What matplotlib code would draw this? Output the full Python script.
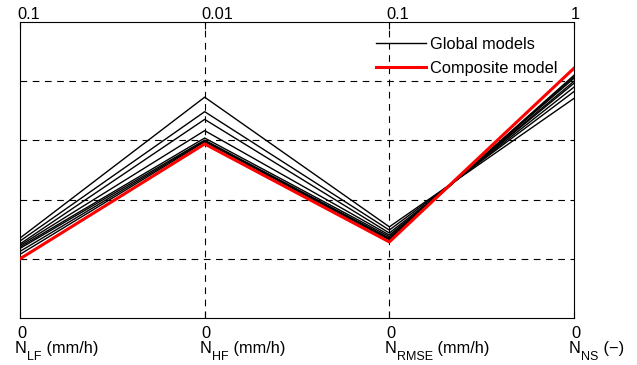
import matplotlib
matplotlib.use("Agg")
import matplotlib.pyplot as plt
from matplotlib.transforms import blended_transform_factory, offset_copy

plt.rcParams['font.family'] = ['Liberation Sans', 'DejaVu Sans']

# ---- data (normalized 0..1 on each axis) ----
axis_main = ['N', 'N', 'N', 'N']
axis_sub = ['LF', 'HF', 'RMSE', 'NS']
axis_units = [' (mm/h)', ' (mm/h)', ' (mm/h)', ' (−)']
top_labels = ['0.1', '0.01', '0.1', '1']
bottom_labels = ['0', '0', '0', '0']

global_models = [
    [0.270, 0.746, 0.308, 0.742],
    [0.260, 0.697, 0.297, 0.765],
    [0.250, 0.671, 0.287, 0.780],
    [0.245, 0.633, 0.280, 0.793],
    [0.240, 0.608, 0.275, 0.800],
    [0.235, 0.601, 0.270, 0.810],
    [0.225, 0.598, 0.267, 0.815],
    [0.215, 0.595, 0.264, 0.820],
]
composite_model = [0.200, 0.588, 0.257, 0.844]

FS = 11.8
SUB_FS = 9.0

W, H = 637, 365
fig = plt.figure(figsize=(W / 100, H / 100), dpi=100)
ax = fig.add_axes([20 / W, (H - 318) / H, 554 / W, 296 / H])

xs = list(range(len(axis_main)))
ax.set_xlim(0, len(xs) - 1)
ax.set_ylim(0, 1)

# grid
for x in xs[1:-1]:
    ax.axvline(x, color='black', lw=0.8, ls=(0, (6, 5)), zorder=1)
for y in [0.2, 0.4, 0.6, 0.8]:
    ax.axhline(y, color='black', lw=0.8, ls=(0, (6, 5)), zorder=1)

for i, g in enumerate(global_models):
    ax.plot(xs, g, color='black', lw=1.0, zorder=2,
            label='Global models' if i == 0 else None)
ax.plot(xs, composite_model, color='red', lw=2.2, zorder=3,
        label='Composite model')

ax.set_xticks(xs)
ax.set_xticklabels([])
ax.set_yticks([])
ax.tick_params(axis='x', direction='in', length=5, width=0.8, top=True, bottom=True)
for s in ax.spines.values():
    s.set_linewidth(0.8)

renderer = fig.canvas.get_renderer()
trans = blended_transform_factory(ax.transData, ax.transAxes)
for x, tl, bl, m, sb, un in zip(xs, top_labels, bottom_labels, axis_main, axis_sub, axis_units):
    ax.text(x, 1.0, tl, transform=offset_copy(trans, fig=fig, x=-3, y=3, units='dots'),
            ha='left', va='baseline', fontsize=FS)
    ax.text(x, 0.0, bl, transform=offset_copy(trans, fig=fig, x=-3, y=-20, units='dots'),
            ha='left', va='baseline', fontsize=FS)
    dx = -5
    t1 = ax.text(x, 0.0, m, transform=offset_copy(trans, fig=fig, x=dx, y=-35, units='dots'),
                 ha='left', va='baseline', fontsize=FS)
    dx += t1.get_window_extent(renderer).width + 0.5
    t2 = ax.text(x, 0.0, sb, transform=offset_copy(trans, fig=fig, x=dx, y=-42, units='dots'),
                 ha='left', va='baseline', fontsize=SUB_FS)
    dx += t2.get_window_extent(renderer).width
    ax.text(x, 0.0, un, transform=offset_copy(trans, fig=fig, x=dx, y=-35, units='dots'),
            ha='left', va='baseline', fontsize=FS)

ax.legend(loc='upper right', frameon=False, fontsize=FS, handlelength=3.05,
          handletextpad=0.3, borderpad=0, borderaxespad=0, labelspacing=0.55,
          bbox_to_anchor=(1 - 16 / 554, 1 - 15 / 296))

fig.savefig('out.png', dpi=100)
